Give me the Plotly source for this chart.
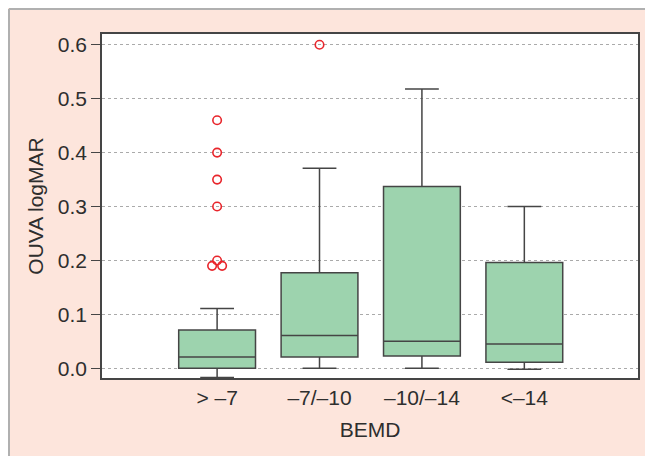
import plotly.graph_objects as go
from collections import Counter

categories = ["> \u20137", "\u20137/\u201310", "\u201310/\u201314", "<\u201314"]
q1 = [0.000, 0.021, 0.023, 0.011]
median = [0.021, 0.061, 0.050, 0.045]
q3 = [0.071, 0.177, 0.337, 0.196]
lower_whisker = [-0.017, 0.000, 0.000, -0.002]
upper_whisker = [0.111, 0.371, 0.518, 0.300]
outlier_group = [0, 0, 0, 0, 0, 0, 0, 1]
outlier_value = [0.46, 0.40, 0.35, 0.30, 0.20, 0.19, 0.19, 0.60]
y_ticks = [0.0, 0.1, 0.2, 0.3, 0.4, 0.5, 0.6]

xpos = list(range(len(categories)))

fig = go.Figure()
fig.add_trace(go.Box(
    x=xpos, q1=q1, median=median, q3=q3,
    lowerfence=lower_whisker, upperfence=upper_whisker,
    width=0.75, whiskerwidth=0.44,
    fillcolor="rgb(157,211,174)",
    line=dict(color="#454545", width=1.5),
    boxpoints=False, showlegend=False, hoverinfo="skip",
))

# spread duplicated outliers side by side
counts = Counter(zip(outlier_group, outlier_value))
seen = Counter()
ox = []
for g, v in zip(outlier_group, outlier_value):
    n = counts[(g, v)]
    k = seen[(g, v)]
    seen[(g, v)] += 1
    ox.append(g + (k - (n - 1) / 2) * 0.098)

fig.add_trace(go.Scatter(
    x=ox, y=outlier_value, mode="markers",
    marker=dict(symbol="circle-open", size=8.5, color="#e8252b", line=dict(width=1.6)),
    showlegend=False, hoverinfo="skip",
))

font = dict(family="Liberation Sans, Arial, sans-serif", size=21, color="#2e2e2e")

W, H = 645, 448
ML, MR, MT, MB = 94, 15, 26, 78
pw, ph = W - ML - MR, H - MT - MB
px0 = (1 - ML) / pw
py0 = (H - MB - 1) / ph

fig.update_layout(
    width=W, height=H,
    margin=dict(l=ML, r=MR, t=MT, b=MB),
    paper_bgcolor="rgb(253,229,220)",
    plot_bgcolor="white",
    font=font,
    xaxis=dict(
        range=[-1.124, 4.11],
        tickvals=xpos, ticktext=categories,
        showgrid=False, zeroline=False,
        showline=True, linecolor="#454545", linewidth=1.5, mirror=True,
        ticks="", tickfont=font,
        title=dict(text="BEMD", font=font, standoff=14),
    ),
    yaxis=dict(
        range=[-0.018, 0.620],
        tickvals=y_ticks, ticktext=[f"{v:.1f}" for v in y_ticks],
        showgrid=True, gridcolor="#aaaaaa", griddash="dot", gridwidth=1,
        zeroline=False,
        showline=True, linecolor="#454545", linewidth=1.5, mirror=True,
        ticks="outside", ticklen=9, tickcolor="#454545", tickwidth=1.2,
        tickfont=font,
        title=dict(text="OUVA logMAR", font=font, standoff=8),
    ),
    shapes=[
        dict(type="line", xref="paper", yref="paper", x0=px0, x1=1.2,
             y0=py0, y1=py0, line=dict(color="#b0b0b0", width=2)),
        dict(type="line", xref="paper", yref="paper", x0=px0, x1=px0,
             y0=-0.3, y1=py0, line=dict(color="#b0b0b0", width=2)),
    ],
)

fig.write_html("out.html")
